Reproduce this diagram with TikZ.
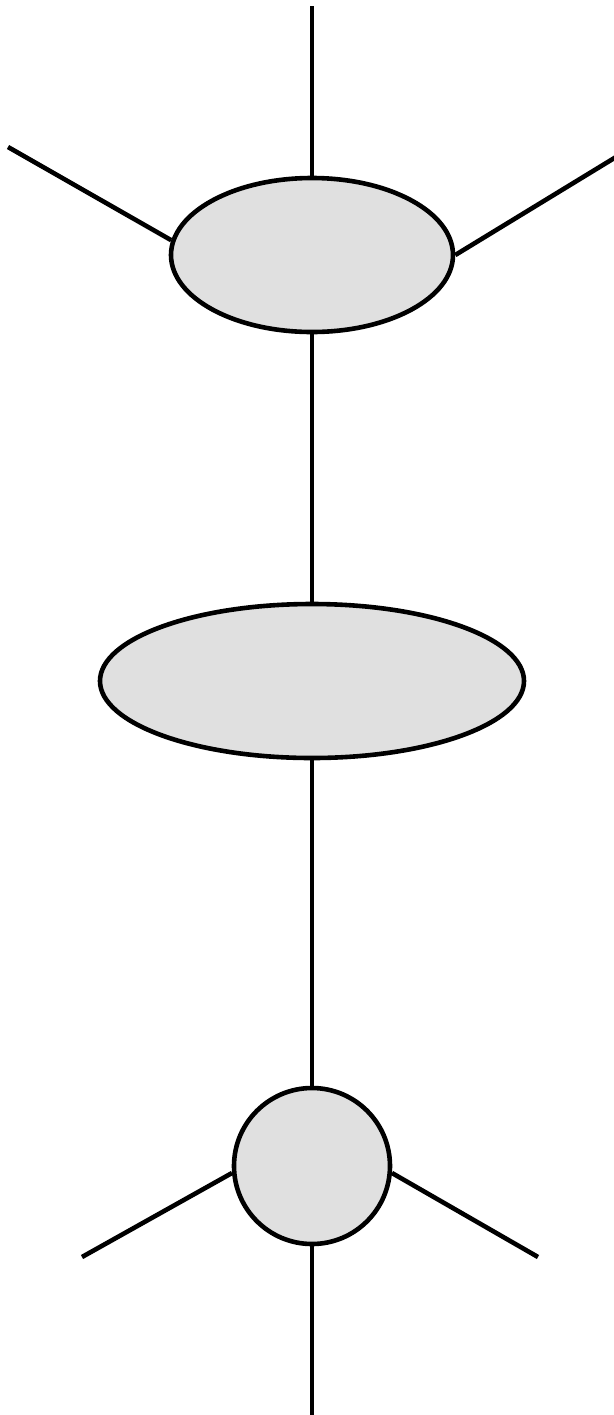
\documentclass[tikz,border=0pt]{standalone}
\usetikzlibrary{shapes.geometric}
\definecolor{blobgray}{HTML}{E0E0E0}
\begin{document}
\begin{tikzpicture}[x=0.5pt,y=-0.5pt,line width=2.3pt,
    blob/.style={ellipse,draw,fill=blobgray,inner sep=0pt}]
        \useasboundingbox (0,0) rectangle (614,1415);
        \node[blob,minimum width=141pt,minimum height=77pt] (A) at (312,255){};
        \node[blob,minimum width=212pt,minimum height=77pt] (B) at (312,681){};
        \node[blob,circle,minimum size=78pt] (C) at (312,1166){};

        \coordinate (Atop) at (312,6);
        \coordinate (Aleft) at (8,147);
        \coordinate (Aright) at (616,157);
        \coordinate (Cleft) at (82,1257);
        \coordinate (Cright) at (538,1257);
        \coordinate (Cbot) at (312,1416);

        \draw (Atop) edge (A) (Aleft) edge (A.174) (A.east) edge (Aright);
        \draw (A) edge (B) (B) edge (C);
        \draw (C) edge (Cbot) (C.185) edge (Cleft) (C.-5) edge (Cright);
      \end{tikzpicture}
\end{document}
